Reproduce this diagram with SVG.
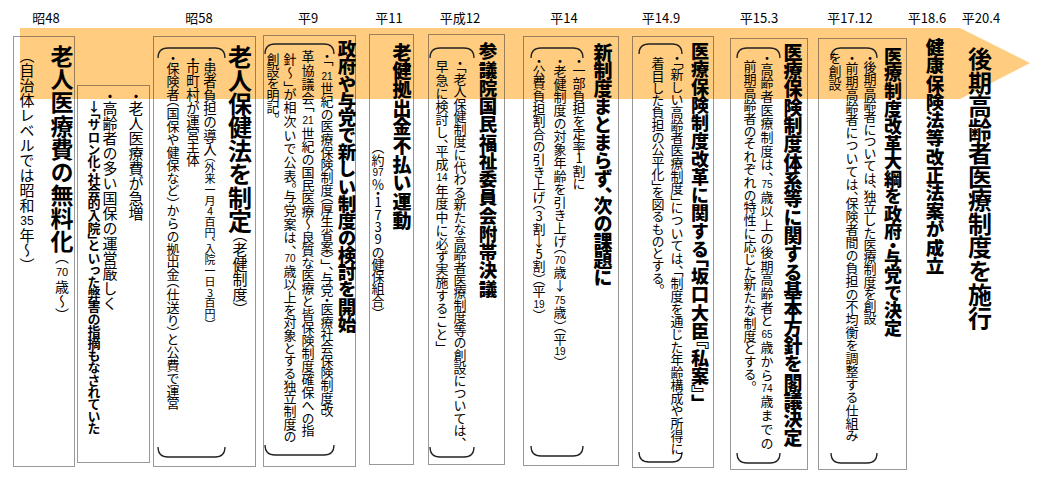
<svg xmlns="http://www.w3.org/2000/svg" width="1041" height="498" viewBox="0 0 1041 498">
<style>
.v{writing-mode:vertical-rl;text-orientation:upright;font-family:"Noto Sans CJK JP","Noto Sans CJK SC",sans-serif;fill:#000;font-feature-settings:"vhal" 1}
.hb{font-weight:900}
.mb{font-weight:700}
.tcy{font-family:"Liberation Sans","Noto Sans CJK JP",sans-serif;text-anchor:middle;fill:#000}
.yr{font-family:"Noto Sans CJK JP",sans-serif;font-size:13px;text-anchor:middle;fill:#000}
.box{fill:none;stroke:#333;stroke-width:1;stroke-dasharray:1 1}
.br{fill:none;stroke:#222;stroke-width:1.3}
</style>
<rect width="1041" height="498" fill="#fff"/>
<g id="connectors">
<polygon id="timeline-arrow" points="20,28 960,28 1030,63 960,99 20,99" fill="#FFCC80"/>
</g>
<g id="years">
<text class="yr" x="46" y="23">昭48</text>
<text class="yr" x="199" y="23">昭58</text>
<text class="yr" x="308" y="23">平9</text>
<text class="yr" x="389" y="23">平11</text>
<text class="yr" x="460" y="23">平成12</text>
<text class="yr" x="564" y="23">平14</text>
<text class="yr" x="661" y="23">平14.9</text>
<text class="yr" x="759" y="23">平15.3</text>
<text class="yr" x="850" y="23">平17.12</text>
<text class="yr" x="927" y="23">平18.6</text>
<text class="yr" x="981" y="23">平20.4</text>
</g>
<g id="node-s48">
<rect class="box" x="13.5" y="36.5" width="61" height="430"/>
<text class="v mb" x="62" y="45" font-size="23" textLength="208">老人医療費の無料化</text>
<text class="v" x="62" y="257" font-size="14">（</text>
<text class="tcy" x="62" y="276" font-size="11">70</text>
<text class="v" x="62" y="280" font-size="14">歳～）</text>
<text class="v" x="27" y="55" font-size="15" textLength="158">（自治体レベルでは昭和</text>
<text class="tcy" x="27" y="225" font-size="12">35</text>
<text class="v" x="27" y="228" font-size="15">年～）</text>
</g>
<g id="node-issues">
<rect class="box" x="77.5" y="85.5" width="72" height="377"/>
<text class="v" x="136" y="93" font-size="15" textLength="128">・老人医療費が急増</text>
<text class="v" x="110" y="93" font-size="15" textLength="218">・高齢者の多い国保の運営厳しく</text>
<text class="v mb" x="94" y="100" font-size="13" textLength="335">↓「サロン化・社会的入院」といった弊害の指摘もなされていた</text>
</g>
<g id="node-s58">
<rect class="box" x="153.5" y="36.5" width="102" height="430"/>
<path class="br" d="M158,58 Q158,48 168,48 H215 Q225,48 225,58 M158,447 Q158,457 168,457 H215 Q225,457 225,447"/>
<text class="v mb" x="240" y="45" font-size="24" textLength="188">老人保健法を制定</text>
<text class="v" x="240" y="234" font-size="15">（老健制度）</text>
<text class="v" x="210" y="55" font-size="13.5" textLength="101">・患者負担の導入</text>
<text class="v" x="210" y="157" font-size="11" textLength="168">（外来一月4百円、入院一日3百円）</text>
<text class="v" x="193" y="55" font-size="13.5" textLength="112">・市町村が運営主体</text>
<text class="v" x="173" y="55" font-size="13" textLength="355">・保険者（国保や健保など）からの拠出金（仕送り）と公費で運営</text>
</g>
<g id="node-h9">
<rect class="box" x="263.5" y="35.5" width="92" height="431"/>
<path class="br" d="M265,54 Q265,44 275,44 H324 Q334,44 334,54 M265,445 Q265,455 275,455 H324 Q334,455 334,445"/>
<text class="v hb" x="347" y="40" font-size="18.5" textLength="293">政府や与党で新しい制度の検討を開始</text>
<text class="v" x="327" y="53" font-size="13">・「</text>
<text class="tcy" x="327" y="80" font-size="10">21</text>
<text class="v" x="327" y="82" font-size="13" textLength="335">世紀の医療保険制度（厚生省案）」、与党・医療社会保険制度改</text>
<text class="v" x="308" y="50" font-size="13" textLength="62">革協議会「</text>
<text class="tcy" x="308" y="124" font-size="10">21</text>
<text class="v" x="308" y="127" font-size="13" textLength="310">世紀の国民医療～良質な医療と皆保険制度確保への指</text>
<text class="v" x="290" y="53" font-size="13" textLength="198">針～」が相次いで公表。与党案は、</text>
<text class="tcy" x="290" y="262" font-size="10">70</text>
<text class="v" x="290" y="265" font-size="13" textLength="178">歳以上を対象とする独立制度の</text>
<text class="v" x="273" y="53" font-size="13" textLength="66">創設を明記。</text>
</g>
<g id="node-h11">
<rect class="box" x="369.5" y="34.5" width="44" height="430"/>
<text class="v hb" x="402" y="43" font-size="19" textLength="187">老健拠出金不払い運動</text>
<text class="v" x="378" y="147" font-size="13">（約</text>
<text class="tcy" x="378" y="176" font-size="10">97</text>
<text class="v" x="378" y="178" font-size="13" textLength="135">％・1739の健保組合）</text>
</g>
<g id="node-h12">
<rect class="box" x="428.5" y="34.5" width="76" height="430"/>
<path class="br" d="M430,58 Q430,48 440,48 H464 Q474,48 474,58 M430,447 Q430,457 440,457 H464 Q474,457 474,447"/>
<text class="v hb" x="488" y="42" font-size="18.5" textLength="256">参議院国民福祉委員会附帯決議</text>
<text class="v" x="460" y="60" font-size="13" textLength="383">・「老人保健制度に代わる新たな高齢者医療制度等の創設については、</text>
<text class="v" x="442" y="60" font-size="13" textLength="111">早急に検討し、平成</text>
<text class="tcy" x="442" y="181" font-size="10">14</text>
<text class="v" x="442" y="184" font-size="13" textLength="163">年度中に必ず実施すること」</text>
</g>
<g id="node-h14">
<rect class="box" x="523.5" y="36.5" width="95" height="429"/>
<path class="br" d="M531,58 Q531,48 541,48 H573 Q583,48 583,58 M531,446 Q531,456 541,456 H573 Q583,456 583,446"/>
<text class="v hb" x="603" y="43" font-size="19" textLength="244">新制度まとまらず、次の課題に</text>
<text class="v" x="579" y="58" font-size="13" textLength="132">・一部負担を定率1割に</text>
<text class="v" x="560" y="58" font-size="13" textLength="196">・老健制度の対象年齢を引き上げ（</text>
<text class="tcy" x="560" y="263.5" font-size="10">70</text>
<text class="v" x="560" y="266" font-size="13">歳↓</text>
<text class="tcy" x="560" y="303.5" font-size="10">75</text>
<text class="v" x="560" y="306" font-size="13" textLength="40">歳）（平</text>
<text class="tcy" x="560" y="354.5" font-size="10">19</text>
<text class="v" x="560" y="356" font-size="13">）</text>
<text class="v" x="539" y="58" font-size="13" textLength="240">・公費負担割合の引き上げ（3割↓5割）（平</text>
<text class="tcy" x="539" y="307.5" font-size="10">19</text>
<text class="v" x="539" y="309" font-size="13">）</text>
</g>
<g id="node-h14-9">
<rect class="box" x="632.5" y="36.5" width="81" height="431"/>
<path class="br" d="M639,54 Q639,44 649,44 H672 Q682,44 682,54 M639,452 Q639,462 649,462 H672 Q682,462 682,452"/>
<text class="v hb" x="700" y="42" font-size="18" textLength="361">医療保険制度改革に関する「坂口大臣『私案』」</text>
<text class="v" x="677" y="55" font-size="13" textLength="400">・「新しい高齢者医療制度」については、「制度を通じた年齢構成や所得に</text>
<text class="v" x="658" y="57" font-size="13" textLength="233">着目した負担の公平化」を図るものとする。</text>
</g>
<g id="node-h15-3">
<rect class="box" x="730.5" y="38.5" width="77" height="431"/>
<path class="br" d="M737,58 Q737,48 747,48 H770 Q780,48 780,58 M737,453 Q737,463 747,463 H770 Q780,463 780,453"/>
<text class="v hb" x="793" y="43" font-size="19" textLength="404">医療保険制度体系等に関する基本方針を閣議決定</text>
<text class="v" x="767" y="55" font-size="13" textLength="123">・高齢者医療制度は、</text>
<text class="tcy" x="767" y="188" font-size="10">75</text>
<text class="v" x="767" y="191" font-size="13" textLength="136">歳以上の後期高齢者と</text>
<text class="tcy" x="767" y="337.5" font-size="10">65</text>
<text class="v" x="767" y="341" font-size="13" textLength="41">歳から</text>
<text class="tcy" x="767" y="392" font-size="10">74</text>
<text class="v" x="767" y="395" font-size="13" textLength="55">歳までの</text>
<text class="v" x="750" y="60" font-size="13" textLength="327">前期高齢者のそれぞれの特性に応じた新たな制度とする。</text>
</g>
<g id="node-h17-12">
<rect class="box" x="818.5" y="38.5" width="88" height="431"/>
<path class="br" d="M831,58 Q831,48 841,48 H867 Q877,48 877,58 M831,453 Q831,463 841,463 H867 Q877,463 877,453"/>
<text class="v hb" x="893" y="47" font-size="18" textLength="290">医療制度改革大綱を政府・与党で決定</text>
<text class="v" x="870" y="55" font-size="13" textLength="270">・後期高齢者については、独立した医療制度を創設</text>
<text class="v" x="852" y="55" font-size="13" textLength="387">・前期高齢者については、保険者間の負担の不均衡を調整する仕組み</text>
<text class="v" x="835" y="52" font-size="13">を創設</text>
</g>
<g id="node-h18-6">
<text class="v hb" x="935" y="38" font-size="18.5" textLength="237">健康保険法等改正法案が成立</text>
</g>
<g id="node-h20-4">
<text class="v mb" x="980" y="47" font-size="24" textLength="283">後期高齢者医療制度を施行</text>
</g>
</svg>
